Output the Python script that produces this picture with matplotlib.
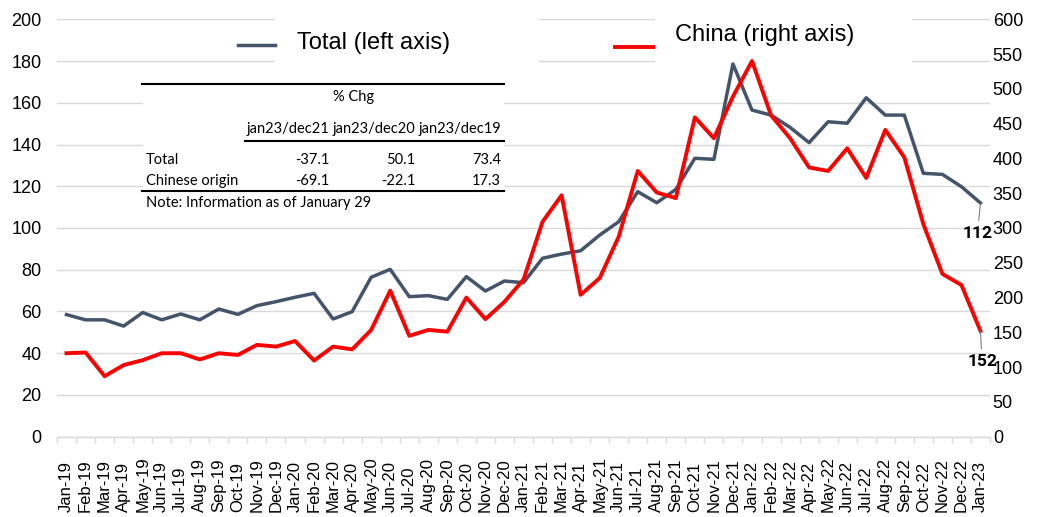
import matplotlib
matplotlib.use("Agg")
import matplotlib.pyplot as plt
from matplotlib.patches import Rectangle
from matplotlib.lines import Line2D
from matplotlib.ticker import FixedLocator
from matplotlib.legend_handler import HandlerLine2D
import numpy as np

plt.rcParams['font.family'] = ['Liberation Sans', 'DejaVu Sans']

months = ['Jan-19', 'Feb-19', 'Mar-19', 'Apr-19', 'May-19', 'Jun-19', 'Jul-19', 'Aug-19',
          'Sep-19', 'Oct-19', 'Nov-19', 'Dec-19',
          'Jan-20', 'Feb-20', 'Mar-20', 'Apr-20', 'May-20', 'Jun-20', 'Jul-20', 'Aug-20',
          'Sep-20', 'Oct-20', 'Nov-20', 'Dec-20',
          'Jan-21', 'Feb-21', 'Mar-21', 'Apr-21', 'May-21', 'Jun-21', 'Jul-21', 'Aug-21',
          'Sep-21', 'Oct-21', 'Nov-21', 'Dec-21',
          'Jan-22', 'Feb-22', 'Mar-22', 'Apr-22', 'May-22', 'Jun-22', 'Jul-22', 'Aug-22',
          'Sep-22', 'Oct-22', 'Nov-22', 'Dec-22',
          'Jan-23']

# Total (left axis)
total = [58.5, 56, 56, 53, 59.5, 56, 58.8, 56, 61.2, 58.6, 62.8, 64.7,
         66.8, 68.7, 56.4, 59.9, 76.4, 80.2, 67.1, 67.6, 65.8, 76.7, 69.8, 74.6,
         73.8, 85.5, 87.5, 89.1, 96.6, 103, 117.4, 112.1, 118.5, 133.4, 132.9, 178.6,
         156.5, 154.1, 148.2, 140.9, 150.9, 150.2, 162.4, 154.1, 154.1, 126.2, 125.7, 119.8,
         112]

# China (right axis)
china = [120, 121, 87, 103, 110, 120, 120, 111, 120, 117.5, 132, 129.5,
         137.5, 109.5, 129.5, 125.5, 153.5, 210, 145, 153.5, 151, 200, 169, 194,
         226, 309, 347, 204, 228, 287.5, 382, 351, 343, 459, 429, 489,
         540, 462, 429, 387, 382, 414.5, 372, 441, 401.5, 305.5, 234, 218,
         152]

# small table in the chart
table_title = '% Chg'
table_cols = ['jan23/dec21', 'jan23/dec20', 'jan23/dec19']
table_rows = ['Total', 'Chinese origin']
table_vals = [[-37.1, 50.1, 73.4],
              [-69.1, -22.1, 17.3]]
table_note = 'Note: Information as of January 29'

GRAY = '#44546A'
RED = '#FF0000'
GRID = '#D9D9D9'

W, H = 1037, 517


def fx(px):
    return px / W


def fy(py):
    return 1 - py / H


class ShiftedLine(HandlerLine2D):
    """legend line drawn a bit lower than the text centre (like excel does)"""
    def __init__(self, dy=0, **kw):
        super().__init__(**kw)
        self.dy = dy

    def create_artists(self, legend, orig_handle, xdescent, ydescent, width, height,
                       fontsize, trans):
        arts = super().create_artists(legend, orig_handle, xdescent, ydescent, width,
                                      height, fontsize, trans)
        for a in arts:
            a.set_ydata(np.asarray(a.get_ydata()) - self.dy)
        return arts


fig = plt.figure(figsize=(W / 100, H / 100), dpi=100)
ax = fig.add_axes([fx(57), fy(436.7), (990 - 57) / W, (436.7 - 19.3) / H])
ax2 = ax.twinx()

x = np.arange(len(months))
ln1, = ax.plot(x, total, color=GRAY, lw=2.5, label='Total (left axis)', zorder=3)
ln2, = ax2.plot(x, china, color=RED, lw=2.8, label='China (right axis)', zorder=3)

ax.set_xlim(-0.5, len(months) - 0.5)
ax.set_ylim(0, 200)
ax2.set_ylim(0, 600)
ax.set_yticks(range(0, 201, 20))
ax2.set_yticks(range(0, 601, 50))

ax.grid(axis='y', color=GRID, lw=1.0)
ax.set_axisbelow(True)
for s in ['left', 'right', 'top']:
    ax.spines[s].set_visible(False)
for s in ['left', 'right', 'top', 'bottom']:
    ax2.spines[s].set_visible(False)
ax.spines['bottom'].set_color(GRID)
ax.spines['bottom'].set_linewidth(1.0)

ax.tick_params(axis='y', length=0, pad=11, labelsize=13)
ax2.tick_params(axis='y', length=0, pad=2, labelsize=13)

ax.set_xticks(x)
ax.set_xticklabels(months, rotation=90, va='bottom', fontsize=12)
ax.tick_params(axis='x', which='major', length=0, pad=54.5)
ax.xaxis.set_minor_locator(FixedLocator(np.arange(-0.5, len(months), 1)))
ax.tick_params(axis='x', which='minor', length=4, color=GRID, width=1)

# white boxes behind legend texts and table (hide gridlines like the original)
for (x0, y0, x1, y1) in [(275, 5, 539, 66), (655, 5, 912, 66), (143, 78, 504, 212)]:
    ax.add_patch(Rectangle((fx(x0), fy(y1)), (x1 - x0) / W, (y1 - y0) / H,
                           transform=fig.transFigure, fc='white', ec='none', zorder=1))

# legends
leg1 = ax2.legend(handles=[ln1], loc='center left', bbox_to_anchor=(fx(238), fy(42.5)),
                  bbox_transform=fig.transFigure, frameon=False, fontsize=17,
                  borderpad=0, borderaxespad=0, handlelength=1.57, handletextpad=0.93,
                  handler_map={ln1: ShiftedLine(dy=3.5)})
ax2.add_artist(leg1)
ax2.legend(handles=[ln2], loc='center left', bbox_to_anchor=(fx(615), fy(35.5)),
           bbox_transform=fig.transFigure, frameon=False, fontsize=17,
           borderpad=0, borderaxespad=0, handlelength=1.6, handletextpad=0.93,
           handler_map={ln2: ShiftedLine(dy=10)})

# last value labels
ax.annotate(f'{total[-1]:.0f}', xy=(x[-1], total[-1]), xytext=(-2.2, -22),
            textcoords='offset points', ha='center', va='center',
            fontsize=12.5, fontweight='bold', family='Roboto',
            arrowprops=dict(arrowstyle='-', color='#808080', lw=0.8, shrinkA=2, shrinkB=0))
ax2.annotate(f'{china[-1]:.0f}', xy=(x[-1], china[-1]), xytext=(1.1, -22.3),
             textcoords='offset points', ha='center', va='center',
             fontsize=12.5, fontweight='bold', family='Roboto',
             arrowprops=dict(arrowstyle='-', color='#808080', lw=0.8, shrinkA=2, shrinkB=0))

# table
TF = 'Lato'
TS = 10.5
fig.add_artist(Line2D([fx(142), fx(503.5)], [fy(83.5)] * 2, color='black', lw=1.5))
fig.text(fx(354), fy(97), table_title, ha='center', va='center', fontsize=TS, family=TF)
col_right = [329.3, 415, 501]
for cx, name in zip(col_right, table_cols):
    fig.text(fx(cx), fy(129), name, ha='right', va='center', fontsize=TS, family=TF)
fig.add_artist(Line2D([fx(245), fx(503.5)], [fy(140.5)] * 2, color='black', lw=1.5))
for ry, name, vals in zip([159.5, 181], table_rows, table_vals):
    fig.text(fx(146), fy(ry), name, ha='left', va='center', fontsize=TS, family=TF)
    for cx, v in zip(col_right, vals):
        fig.text(fx(cx), fy(ry), f'{v:.1f}', ha='right', va='center', fontsize=TS, family=TF)
fig.add_artist(Line2D([fx(142), fx(503.5)], [fy(191)] * 2, color='black', lw=1.5))
fig.text(fx(146), fy(203), table_note, ha='left', va='center', fontsize=TS, family=TF)

fig.savefig('out.png', dpi=100)
